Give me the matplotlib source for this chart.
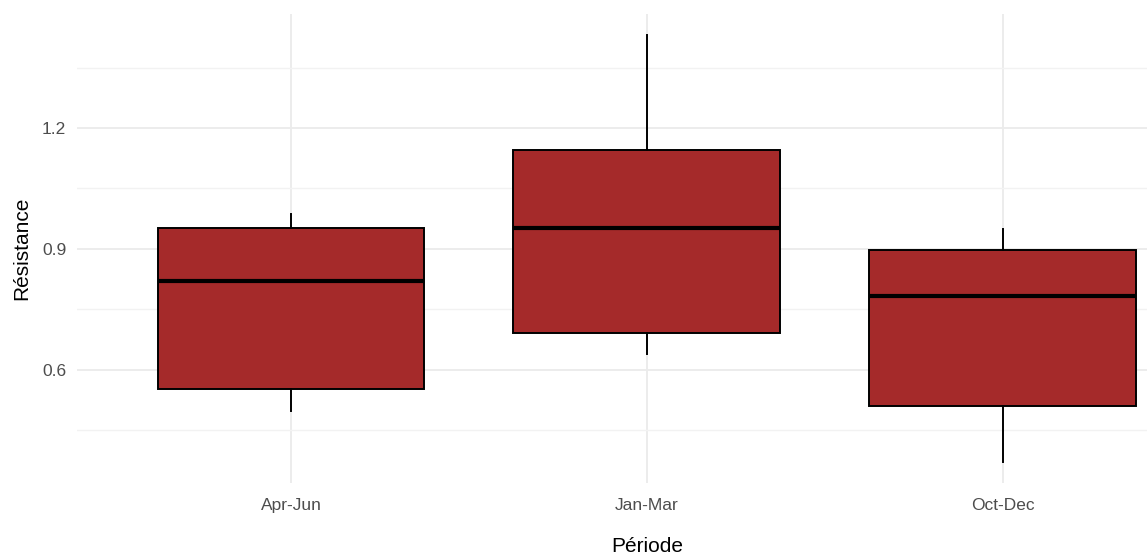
import matplotlib
matplotlib.use("Agg")
import matplotlib.pyplot as plt

plt.rcParams['font.family'] = ['Liberation Sans', 'DejaVu Sans']

periods = ["Apr-Jun", "Jan-Mar", "Oct-Dec"]
whisker_low = [0.498, 0.640, 0.372]
q1 = [0.553, 0.692, 0.511]
median = [0.821, 0.952, 0.783]
q3 = [0.952, 1.145, 0.897]
whisker_high = [0.987, 1.431, 0.950]

fig = plt.figure(figsize=(11.47, 5.56), dpi=100)
ax = fig.add_axes([77.4 / 1147, 73 / 556, (1216.6 - 77.4) / 1147, (483 - 13.5) / 556])

stats = []
for name, lo, a, m, b, hi in zip(periods, whisker_low, q1, median, q3, whisker_high):
    stats.append(dict(label=name, whislo=lo, q1=a, med=m, q3=b, whishi=hi, fliers=[]))

positions = list(range(1, len(periods) + 1))
ax.bxp(stats, positions=positions, widths=0.75, patch_artist=True, showcaps=False,
       showfliers=False,
       boxprops=dict(facecolor="#A52A2A", edgecolor="black", linewidth=1.4),
       medianprops=dict(color="black", linewidth=3.0, solid_capstyle="butt"),
       whiskerprops=dict(color="black", linewidth=1.4))

ax.set_xlim(0.4, 3.6)
ax.set_ylim(0.319, 1.484)
ax.set_yticks([0.6, 0.9, 1.2])
ax.set_yticklabels(["0.6", "0.9", "1.2"])
ax.set_yticks([0.45, 0.75, 1.05, 1.35], minor=True)
ax.set_xticks(positions)
ax.set_xticklabels(periods)

ax.set_axisbelow(True)
ax.grid(True, which="major", color="#ebebeb", linewidth=1.3)
ax.grid(True, which="minor", axis="y", color="#f2f2f2", linewidth=1.0)
for s in ax.spines.values():
    s.set_visible(False)
ax.tick_params(axis="both", which="both", length=0, colors="#4d4d4d", labelsize=12.5)
ax.tick_params(axis="x", pad=11)
ax.tick_params(axis="y", pad=8)

ax.set_xlabel("Période", fontsize=15, labelpad=17)
ax.set_ylabel("Résistance", fontsize=15, labelpad=8)

fig.savefig("out.png", dpi=100)
